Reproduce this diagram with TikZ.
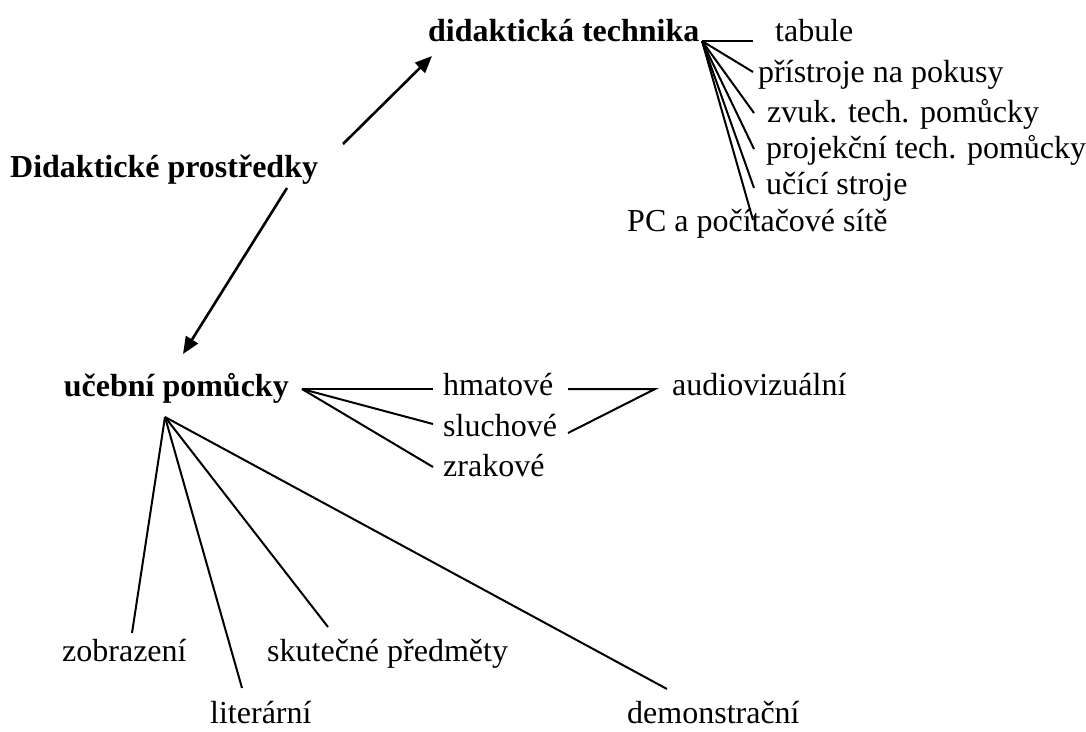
\documentclass[tikz,border=0pt]{standalone}
\usepackage{fontspec}
\setmainfont{Liberation Serif}
\usetikzlibrary{arrows.meta}
\begin{document}
\begin{tikzpicture}[x=1pt,y=-1pt,
  lbl/.style={inner sep=0pt,anchor=base west,font=\fontsize{32}{38}\selectfont},
  blbl/.style={inner sep=0pt,anchor=base west,font=\fontsize{32}{38}\selectfont\bfseries},
  ln/.style={line width=2pt},
  arr/.style={line width=2.6pt,-{Triangle[length=17pt,width=14pt]}}]
\useasboundingbox (0,0) rectangle (1086,731);
% main labels
\node[blbl] (dp) at (10,177) {Didaktické prostředky};
\node[blbl] (dt) at (428,41) {didaktická technika};
\node[blbl,anchor=base east] (up) at (289,396) {učební pomůcky};
% technika items
\node[lbl] (tab) at (775,41) {tabule};
\node[lbl] (pri) at (758,82) {přístroje na pokusy};
\node[lbl] (zvuk) at (767,122) {zvuk. tech. pomůcky};
\node[lbl] (proj) at (766,158) {projekční tech. pomůcky};
\node[lbl] (uci) at (766,194) {učící stroje};
\node[lbl] (pc) at (627,231) {PC a počítačové sítě};
% pomucky items
\node[lbl] (hm) at (443,395) {hmatové};
\node[lbl] (sl) at (443,436) {sluchové};
\node[lbl] (zr) at (443,476) {zrakové};
\node[lbl] (av) at (672,395) {audiovizuální};
\node[lbl] (zob) at (62,661) {zobrazení};
\node[lbl] (sku) at (267,661) {skutečné předměty};
\node[lbl,text depth=0pt] (lit) at (210,723) {literární};
\node[lbl,text depth=0pt] (dem) at (627,723) {demonstrační};
% connector points
\coordinate (dpA) at (343,144);
\coordinate (dtA) at (432,56);
\coordinate (dpB) at (287,188);
\coordinate (upA) at (183,354);
\coordinate (dtO) at (702,41);
\coordinate (tabE) at (753,41);
\coordinate (priE) at (753,72);
\coordinate (zvukE) at (754,113);
\coordinate (projE) at (754,149);
\coordinate (uciE) at (754,188);
\coordinate (pcE) at (753,220);
\coordinate (upO) at (302,389);
\coordinate (hmE) at (433,389);
\coordinate (slE) at (433,424);
\coordinate (zrE) at (433,467);
\coordinate (hmR) at (568,389);
\coordinate (avL) at (655,389);
\coordinate (slR) at (568,433);
\coordinate (upB) at (165,417);
\coordinate (zobE) at (132,633);
\coordinate (litE) at (242,688);
\coordinate (skuE) at (328,627);
\coordinate (demE) at (667,689);
% arrows
\draw[arr] (dpA) -- (dtA);
\draw[arr] (dpB) -- (upA);
% fans
\foreach \e in {tabE,priE,zvukE,projE,uciE,pcE} \draw[ln] (dtO) -- (\e);
\foreach \e in {hmE,slE,zrE} \draw[ln] (upO) -- (\e);
\draw[ln] (hmR) -- (avL) -- (slR);
\foreach \e in {zobE,litE,skuE,demE} \draw[ln] (upB) -- (\e);
\end{tikzpicture}
\end{document}
